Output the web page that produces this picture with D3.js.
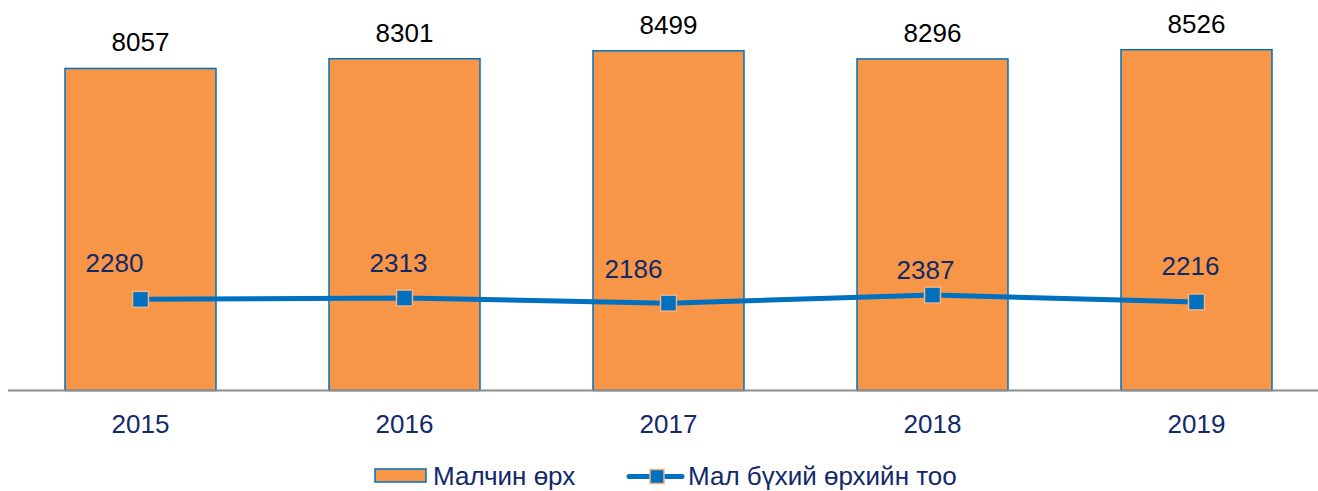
<!DOCTYPE html>
<html>
<head>
<meta charset="utf-8">
<script src="https://cdn.jsdelivr.net/npm/d3@7"></script>
<style>
  html, body { margin: 0; padding: 0; background: #fff; }
  svg { display: block; font-family: "Liberation Sans", Arial, sans-serif; }
</style>
</head>
<body>
<svg id="chart" width="1318" height="491"></svg>
<script>
const years = ["2015", "2016", "2017", "2018", "2019"];
const herderHouseholds = [8057, 8301, 8499, 8296, 8526];
const livestockHouseholds = [2280, 2313, 2186, 2387, 2216];
const seriesNames = ["Малчин өрх", "Мал бүхий өрхийн тоо"];

// label nudges (styling only)
const lineLabelNudge = [[-26, -27], [-6, -26], [-35, -25], [-7, -16], [-6, -27]];

const svg = d3.select("#chart");
const baseY = 390.5;

const x = d3.scaleBand().domain(years).range([8.5, 1328.5]).paddingInner(0.428).paddingOuter(0.214);
const y = d3.scaleLinear().domain([0, 10000]).range([baseY, baseY - 399.7]);

const navy = "#10296b";

// bars
svg.append("g").selectAll("rect").data(years).join("rect")
  .attr("x", d => x(d))
  .attr("y", (d, i) => y(herderHouseholds[i]))
  .attr("width", x.bandwidth())
  .attr("height", (d, i) => y(0) - y(herderHouseholds[i]))
  .attr("fill", "#f79646")
  .attr("stroke", "#0070c0")
  .attr("stroke-width", 1.5);

// bar labels
svg.append("g").selectAll("text").data(years).join("text")
  .attr("x", d => x(d) + x.bandwidth() / 2)
  .attr("y", (d, i) => y(herderHouseholds[i]) - 17)
  .attr("text-anchor", "middle")
  .attr("font-size", 26)
  .attr("fill", "#000")
  .text((d, i) => herderHouseholds[i]);

// x axis
const xAxis = d3.axisBottom(x).tickSize(0).tickPadding(0);
const gx = svg.append("g").attr("transform", `translate(0,${baseY})`).call(xAxis);
gx.select(".domain").remove();
gx.selectAll("text").attr("font-size", 26).attr("fill", navy).attr("dy", null).attr("y", 42)
  .attr("font-family", "Liberation Sans, Arial, sans-serif");
svg.append("line").attr("x1", 8).attr("x2", 1318).attr("y1", baseY).attr("y2", baseY)
  .attr("stroke", "#8c8c8c").attr("stroke-width", 2);

// line
const cx = d => x(d) + x.bandwidth() / 2;
const line = d3.line().x(d => cx(d)).y((d, i) => y(livestockHouseholds[i]));
svg.append("path").datum(years).attr("d", line)
  .attr("fill", "none").attr("stroke", "#0070c0").attr("stroke-width", 5);

const ms = 16;
svg.append("g").selectAll("rect").data(years).join("rect")
  .attr("x", d => cx(d) - ms / 2)
  .attr("y", (d, i) => y(livestockHouseholds[i]) - ms / 2)
  .attr("width", ms).attr("height", ms)
  .attr("fill", "#0070c0")
  .attr("stroke", "#f4b183")
  .attr("stroke-width", 1.5);

svg.append("g").selectAll("text").data(years).join("text")
  .attr("x", (d, i) => cx(d) + lineLabelNudge[i][0])
  .attr("y", (d, i) => y(livestockHouseholds[i]) + lineLabelNudge[i][1])
  .attr("text-anchor", "middle")
  .attr("font-size", 26)
  .attr("fill", navy)
  .text((d, i) => livestockHouseholds[i]);

// legend
const lg = svg.append("g");
lg.append("rect").attr("x", 375).attr("y", 469).attr("width", 51).attr("height", 13)
  .attr("fill", "#f79646").attr("stroke", "#0070c0").attr("stroke-width", 1.5);
lg.append("text").attr("x", 433).attr("y", 485).attr("font-size", 26).attr("fill", navy).text(seriesNames[0]);
lg.append("line").attr("x1", 629).attr("x2", 682).attr("y1", 476.5).attr("y2", 476.5)
  .attr("stroke", "#0070c0").attr("stroke-width", 5).attr("stroke-linecap", "round");
lg.append("rect").attr("x", 650).attr("y", 469.5).attr("width", 14).attr("height", 14)
  .attr("fill", "#0070c0").attr("stroke", "#f4b183").attr("stroke-width", 1.5);
lg.append("text").attr("x", 688).attr("y", 485).attr("font-size", 26).attr("fill", navy).text(seriesNames[1]);
</script>
</body>
</html>
